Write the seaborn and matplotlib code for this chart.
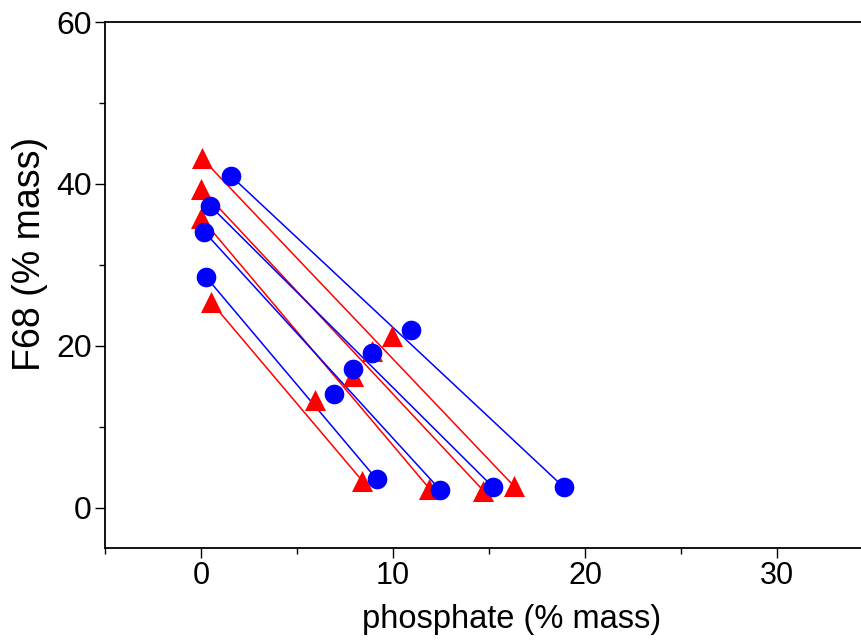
import matplotlib
matplotlib.use("Agg")
import matplotlib.pyplot as plt
from matplotlib.ticker import MultipleLocator
import seaborn as sns
import pandas as pd

# Tie lines: top phase (F68-rich) -> bottom phase (phosphate-rich), plus feed point
blue_top_x = [1.55, 0.47, 0.16, 0.26]
blue_top_y = [41.0, 37.3, 34.1, 28.5]
blue_bot_x = [18.9, 15.2, 12.45, 9.15]
blue_bot_y = [2.5, 2.55, 2.2, 3.5]
blue_feed_x = [10.94, 8.9, 7.92, 6.93]
blue_feed_y = [22.0, 19.1, 17.1, 14.0]

red_top_x = [0.03, 0.0, 0.0, 0.52]
red_top_y = [43.2, 39.4, 35.8, 25.4]
red_bot_x = [16.3, 14.7, 11.9, 8.4]
red_bot_y = [2.65, 2.1, 2.33, 3.3]
red_feed_x = [9.95, 8.9, 7.9, 5.94]
red_feed_y = [21.2, 19.3, 16.3, 13.25]

x_ticks = [0, 10, 20, 30]
y_ticks = [0, 20, 40, 60]

sns.set_theme(style="ticks")
plt.rcParams['font.family'] = ['Liberation Sans', 'DejaVu Sans']
plt.rcParams['text.color'] = 'black'
plt.rcParams['axes.labelcolor'] = 'black'

fig = plt.figure(figsize=(8.61, 6.41), dpi=100)
ax = fig.add_axes([105/861, 93/641, 768/861, 526/641])

def draw(tx, ty, bx, by, fx, fy, color, marker, ms):
    for i in range(len(tx)):
        line = pd.DataFrame({"x": [tx[i], bx[i]], "y": [ty[i], by[i]]})
        sns.lineplot(data=line, x="x", y="y", color=color, lw=1.1, ax=ax,
                     sort=False, estimator=None, zorder=2)
    pts = pd.DataFrame({"x": tx + fx + bx, "y": ty + fy + by})
    sns.scatterplot(data=pts, x="x", y="y", color=color, marker=marker,
                    s=ms, linewidth=0, ax=ax, zorder=3)

draw(red_top_x, red_top_y, red_bot_x, red_bot_y, red_feed_x, red_feed_y,
     "#ff0000", "^", 230)
draw(blue_top_x, blue_top_y, blue_bot_x, blue_bot_y, blue_feed_x, blue_feed_y,
     "#0000ff", "o", 200)

ax.set_xlim(-5, 35)
ax.set_ylim(-5, 60)
ax.xaxis.set_minor_locator(MultipleLocator(5))
ax.yaxis.set_minor_locator(MultipleLocator(10))
ax.set_xticks(x_ticks)
ax.set_yticks(y_ticks)
ax.set_xticklabels([str(v) for v in x_ticks], fontsize=22)
ax.set_yticklabels([str(v) for v in y_ticks], fontsize=23)

for s in ["left", "bottom", "top"]:
    ax.spines[s].set_linewidth(1.3)
    ax.spines[s].set_color("black")
ax.spines["right"].set_visible(False)

ax.tick_params(axis="both", which="major", direction="out", length=7.5, width=1,
               colors="black", labelcolor="black", top=False, right=False)
ax.tick_params(axis="y", which="major", pad=2)
ax.tick_params(axis="x", which="major", pad=2)
ax.tick_params(axis="both", which="minor", direction="out", length=4.5, width=1,
               colors="black", top=False, right=False)

ax.set_xlabel("phosphate (% mass)", fontsize=23.5, color="black")
ax.set_ylabel("F68 (% mass)", fontsize=27, color="black")
ax.xaxis.set_label_coords(0.53, -0.135)
ax.xaxis.label.set_va("center")
ax.yaxis.set_label_coords(-0.098, 0.559)
ax.yaxis.label.set_va("center")

fig.savefig("out.png", dpi=100)
